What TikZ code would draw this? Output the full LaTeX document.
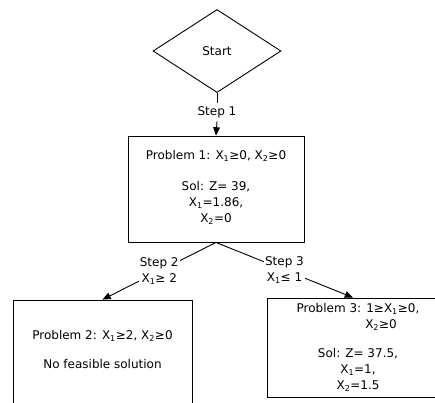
\documentclass[tikz,border=0pt]{standalone}
\usepackage{fontspec}
\setmainfont{DejaVu Sans}
\usetikzlibrary{shapes.geometric,arrows}

\begin{document}
\begin{tikzpicture}[x=1pt,y=-1pt,line width=0.9pt]
	    \tikzstyle{every node}=[font=\fontsize{12}{16}\selectfont]
	    \tikzstyle{box}=[rectangle,draw,inner sep=0]
	    \tikzstyle{steplabel}=[fill=white,align=center,inner sep=1pt]
	    \tikzstyle{boxtext}=[align=center,anchor=north,inner sep=0]
	    \clip (0,0) rectangle (435,402);
	    % start and first problem
	    \node[diamond,draw,inner sep=0,minimum width=128,minimum height=83] (start) at (217,51) {Start};
	    \node (step1) at (217,112) {Step 1};
	    \node[box,minimum width=176,minimum height=106] (p1) at (216,189) {};
	    \node[boxtext] (p1txt) at (216,150) {Problem 1: X\textsubscript{1}≥0, X\textsubscript{2}≥0\\[15pt]
	        Sol: Z= 39,\\ X\textsubscript{1}=1.86,\\ X\textsubscript{2}=0};
	    % branches
	    \node[box,minimum width=179,minimum height=120] (p2) at (102.5,360) {};
	    \node[boxtext] (p2txt) at (102.5,330) {Problem 2: X\textsubscript{1}≥2, X\textsubscript{2}≥0\\[13pt]
	        No feasible solution};
	    \node[box,minimum width=172,minimum height=99] (p3) at (353,347.5) {};
	    \node[boxtext] (p3txt) at (358,303) {Problem 3: 1≥X\textsubscript{1}≥0,\\ \hspace*{46pt}X\textsubscript{2}≥0\\[13pt]
	        Sol: Z= 37.5,\\ X\textsubscript{1}=1,\\ X\textsubscript{2}=1.5};
	    \draw (start.south) -- (step1.north);
	    \draw[-triangle 45] (step1.south) -- (p1.north);
	    \draw[-triangle 45] (p1.south) -- node[steplabel] {Step 2\\X\textsubscript{1}≥ 2} (p2.north);
	    \draw[-triangle 45] (p1.south) -- node[steplabel] {Step 3\\X\textsubscript{1}≤ 1} (p3.north);
\end{tikzpicture}
\end{document}
